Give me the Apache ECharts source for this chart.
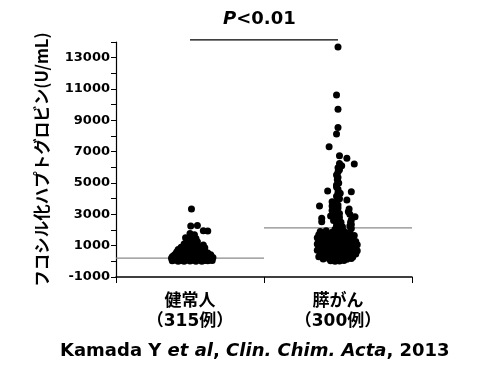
<!DOCTYPE html>
<html>
<head>
<meta charset="utf-8">
<script src="https://cdn.jsdelivr.net/npm/echarts@6/dist/echarts.min.js"></script>
<style>html,body{margin:0;padding:0;background:#fff}#c{width:482px;height:382px}</style>
</head>
<body>
<div id="c"></div>
<script>
// ---- data ----
const categories = ['健常人\n（315例）', '膵がん\n（300例）'];
const yAxisTitle = 'フコシル化ハプトグロビン(U/mL)';
const yMin = -1000, yMax = 14000, yStep = 1000;
const medians = [200, 2130];
const pText = 'P<0.01';
const pBracketValue = 14130;

// healthy group: jitter (category units) and values (U/mL)
const healthyJitter = [
  0.01, 0.005, 0.05, 0.09, 0.12,
  0.0, 0.03, -0.03, 0.01, 0.04, -0.02, 0.02, 0.05, -0.04, 0.0, 0.04, 0.09, 0.12, 0.155, -0.125,
  -0.06, -0.02, 0.02, 0.06, 0.10,
  -0.07, -0.03, 0.01, 0.05, 0.09,
  -0.08, -0.04, 0.0, 0.04, 0.08,
  -0.09, -0.05, -0.01, 0.03, 0.07, 0.11,
  -0.08, -0.04, 0.0, 0.04, 0.08,
  -0.10, -0.06, -0.02, 0.02, 0.06, 0.10, 0.14,
  -0.11, -0.07, -0.03, 0.01, 0.05, 0.09, 0.125,
  -0.12, -0.09, -0.05, -0.01, 0.03, 0.07, 0.11, 0.14,
  -0.10, -0.06, -0.02, 0.02, 0.06, 0.10,
  -0.11, -0.07, -0.03, 0.01, 0.05, 0.09, 0.13,
  -0.10, -0.06, -0.02, 0.02, 0.06, 0.10, 0.135,
  -0.12, -0.08, -0.04, 0.0, 0.04, 0.08, 0.12, 0.15
];
const healthyValues = [
  3340, 2260, 2280, 1950, 1930,
  1780, 1700, 1500, 1550, 1450, 1300, 1320, 1250, 1100, 1120, 1080, 1040, 530, 250, 200,
  900, 920, 880, 910, 870,
  680, 700, 660, 690, 650,
  750, 770, 730, 760, 720,
  600, 620, 580, 610, 590, 550,
  520, 540, 510, 530, 500,
  450, 470, 430, 460, 440, 480, 420,
  380, 360, 390, 370, 400, 350, 380,
  290, 320, 280, 310, 300, 330, 270, 350,
  220, 240, 210, 230, 200, 250,
  150, 170, 120, 140, 160, 130, 180,
  80, 60, 90, 70, 100, 50, 90,
  30, 10, 0, 20, 0, 10, 40, 60
];

// pancreatic cancer group
const cancerJitter = [
  0.0, -0.01, 0.0, 0.0, -0.01, -0.06, 0.01, 0.06, 0.11, 0.01, 0.025, 0.0,
  -0.01, -0.005, -0.01, 0.0, -0.07, 0.09, 0.015, -0.01, 0.06, 0.0,
  -0.125, -0.04, 0.0, 0.075, 0.07, -0.01, -0.02, 0.115, -0.11, -0.11,
  0.09, 0.09, 0.09, -0.02, 0.01, -0.03, 0.02, -0.01, 0.03,
  -0.02, 0.02, 0.0, -0.01, 0.01, 0.0, -0.01, 0.01, 0.0, -0.01, 0.005, 0.0, 0.0, 0.01,
  -0.04, -0.04, -0.05, 0.08, 0.085, 0.08,
  -0.12, -0.08, -0.04, 0.0, 0.04, 0.08,
  -0.13, -0.09, -0.05, -0.01, 0.03, 0.07, 0.11,
  -0.14, -0.10, -0.06, -0.02, 0.02, 0.06, 0.10,
  -0.13, -0.09, -0.05, -0.01, 0.03, 0.07, 0.12,
  -0.14, -0.10, -0.06, -0.02, 0.02, 0.06, 0.10, 0.13,
  -0.13, -0.09, -0.05, -0.01, 0.03, 0.07, 0.11,
  -0.14, -0.10, -0.06, -0.02, 0.02, 0.06, 0.10, 0.13,
  -0.12, -0.08, -0.04, 0.0, 0.04, 0.08, 0.12,
  -0.13, -0.09, -0.05, -0.01, 0.03, 0.07, 0.10,
  -0.10, -0.06, -0.02, 0.02, 0.06, 0.09,
  -0.05, -0.02, 0.01, 0.04
];
const cancerValues = [
  13680, 10610, 9700, 8550, 8130, 7320, 6740, 6580, 6210, 6250, 6100, 5980,
  5510, 5200, 4870, 4600, 4490, 4440, 4340, 4150, 3910, 3980,
  3530, 3530, 3600, 3340, 3170, 3300, 3100, 2850, 2750, 2530,
  2640, 2350, 2100, 2900, 2800, 2600, 2500, 2300, 2200,
  2050, 2150, 2450, 2700, 3050, 3400, 3750, 4000, 4400, 4750, 5000, 5350, 5700, 5850,
  3800, 3250, 2900, 3000, 2500, 2250,
  1900, 1950, 1850, 1980, 1920, 1870,
  1700, 1750, 1680, 1720, 1690, 1760, 1650,
  1500, 1520, 1480, 1550, 1460, 1510, 1490,
  1300, 1330, 1280, 1310, 1290, 1320, 1270,
  1100, 1120, 1090, 1130, 1080, 1110, 1140, 1060,
  900, 920, 880, 930, 890, 910, 870,
  700, 720, 680, 730, 690, 710, 740, 680,
  500, 520, 480, 530, 490, 510, 470,
  300, 320, 280, 330, 290, 310, 270,
  150, 170, 130, 160, 140, 180,
  40, 10, 20, 50
];
const citation = ['Kamada Y ', 'et al', ', ', 'Clin. Chim. Acta', ', 2013'];

// ---- chart ----
const chart = echarts.init(document.getElementById('c'), null, {renderer: 'canvas'});
const toPts = (idx, jit, vals) => vals.map((v, i) => [idx + jit[i], v]);
const latin = '"DejaVu Sans", "Noto Sans CJK JP", sans-serif';
const cjk = '"Noto Sans CJK JP", sans-serif';

chart.setOption({
  animation: false,
  backgroundColor: '#fff',
  grid: {left: 116, right: 70, top: 42, bottom: 105, containLabel: false},
  xAxis: [
    {
      type: 'category', data: categories, boundaryGap: true,
      axisLine: {onZero: false, lineStyle: {color: '#000', width: 1.5}},
      axisTick: {show: true, length: 6, lineStyle: {color: '#000', width: 1}},
      axisLabel: {
        margin: 15, color: '#000', fontSize: 17, fontWeight: 'bold', lineHeight: 20,
        fontFamily: latin
      }
    },
    {type: 'value', min: -0.5, max: 1.5, show: false, axisLine: {onZero: false}}
  ],
  yAxis: {
    type: 'value', min: yMin, max: yMax, interval: yStep,
    name: yAxisTitle, nameLocation: 'middle', nameGap: 66, nameRotate: 90,
    nameTextStyle: {color: '#000', fontSize: 16.5, fontWeight: 'bold', fontFamily: cjk},
    splitLine: {show: false},
    axisLine: {show: true, onZero: false, lineStyle: {color: '#000', width: 1.2}},
    axisTick: {show: true, length: 5, inside: false, lineStyle: {color: '#000', width: 1}},
    axisLabel: {
      margin: 6, color: '#000', fontSize: 13, fontWeight: 'bold', fontFamily: latin,
      verticalAlign: 'middle', padding: [0, 0, 8, 0],
      formatter: v => (Math.round(v / yStep) % 2 !== 0 ? String(v) : '')
    }
  },
  series: [
    {
      type: 'line', xAxisIndex: 1, z: 1, symbol: 'none', silent: true,
      lineStyle: {color: '#8a8a8a', width: 1.3},
      data: [[-0.5, medians[0]], [0.5, medians[0]]]
    },
    {
      type: 'line', xAxisIndex: 1, z: 1, symbol: 'none', silent: true,
      lineStyle: {color: '#8a8a8a', width: 1.3},
      data: [[0.5, medians[1]], [1.5, medians[1]]]
    },
    {
      type: 'line', xAxisIndex: 1, z: 3, symbol: 'none', silent: true, clip: false,
      lineStyle: {color: '#000', width: 1.3},
      data: [[0, pBracketValue], [1, pBracketValue]]
    },
    {
      type: 'scatter', xAxisIndex: 1, z: 5, symbol: 'circle', symbolSize: 7,
      itemStyle: {color: '#000', opacity: 1},
      data: toPts(0, healthyJitter, healthyValues)
    },
    {
      type: 'scatter', xAxisIndex: 1, z: 5, symbol: 'circle', symbolSize: 7,
      itemStyle: {color: '#000', opacity: 1},
      data: toPts(1, cancerJitter, cancerValues), clip: false
    }
  ],
  graphic: [
    {
      type: 'text', left: 223, top: 10,
      style: {
        rich: {
          i: {fontFamily: latin, fontSize: 18, fontWeight: 'bold', fontStyle: 'italic', fill: '#000'},
          b: {fontFamily: latin, fontSize: 18, fontWeight: 'bold', fill: '#000'}
        },
        text: '{i|' + pText.slice(0, 1) + '}{b|' + pText.slice(1) + '}'
      }
    },
    {
      type: 'text', left: 60, top: 342,
      style: {
        rich: {
          b: {fontFamily: latin, fontSize: 18, fontWeight: 'bold', fill: '#000'},
          i: {fontFamily: latin, fontSize: 18, fontWeight: 'bold', fontStyle: 'italic', fill: '#000'}
        },
        text: '{b|' + citation[0] + '}{i|' + citation[1] + '}{b|' + citation[2] + '}{i|' + citation[3] + '}{b|' + citation[4] + '}'
      }
    }
  ]
});
</script>
</body>
</html>
